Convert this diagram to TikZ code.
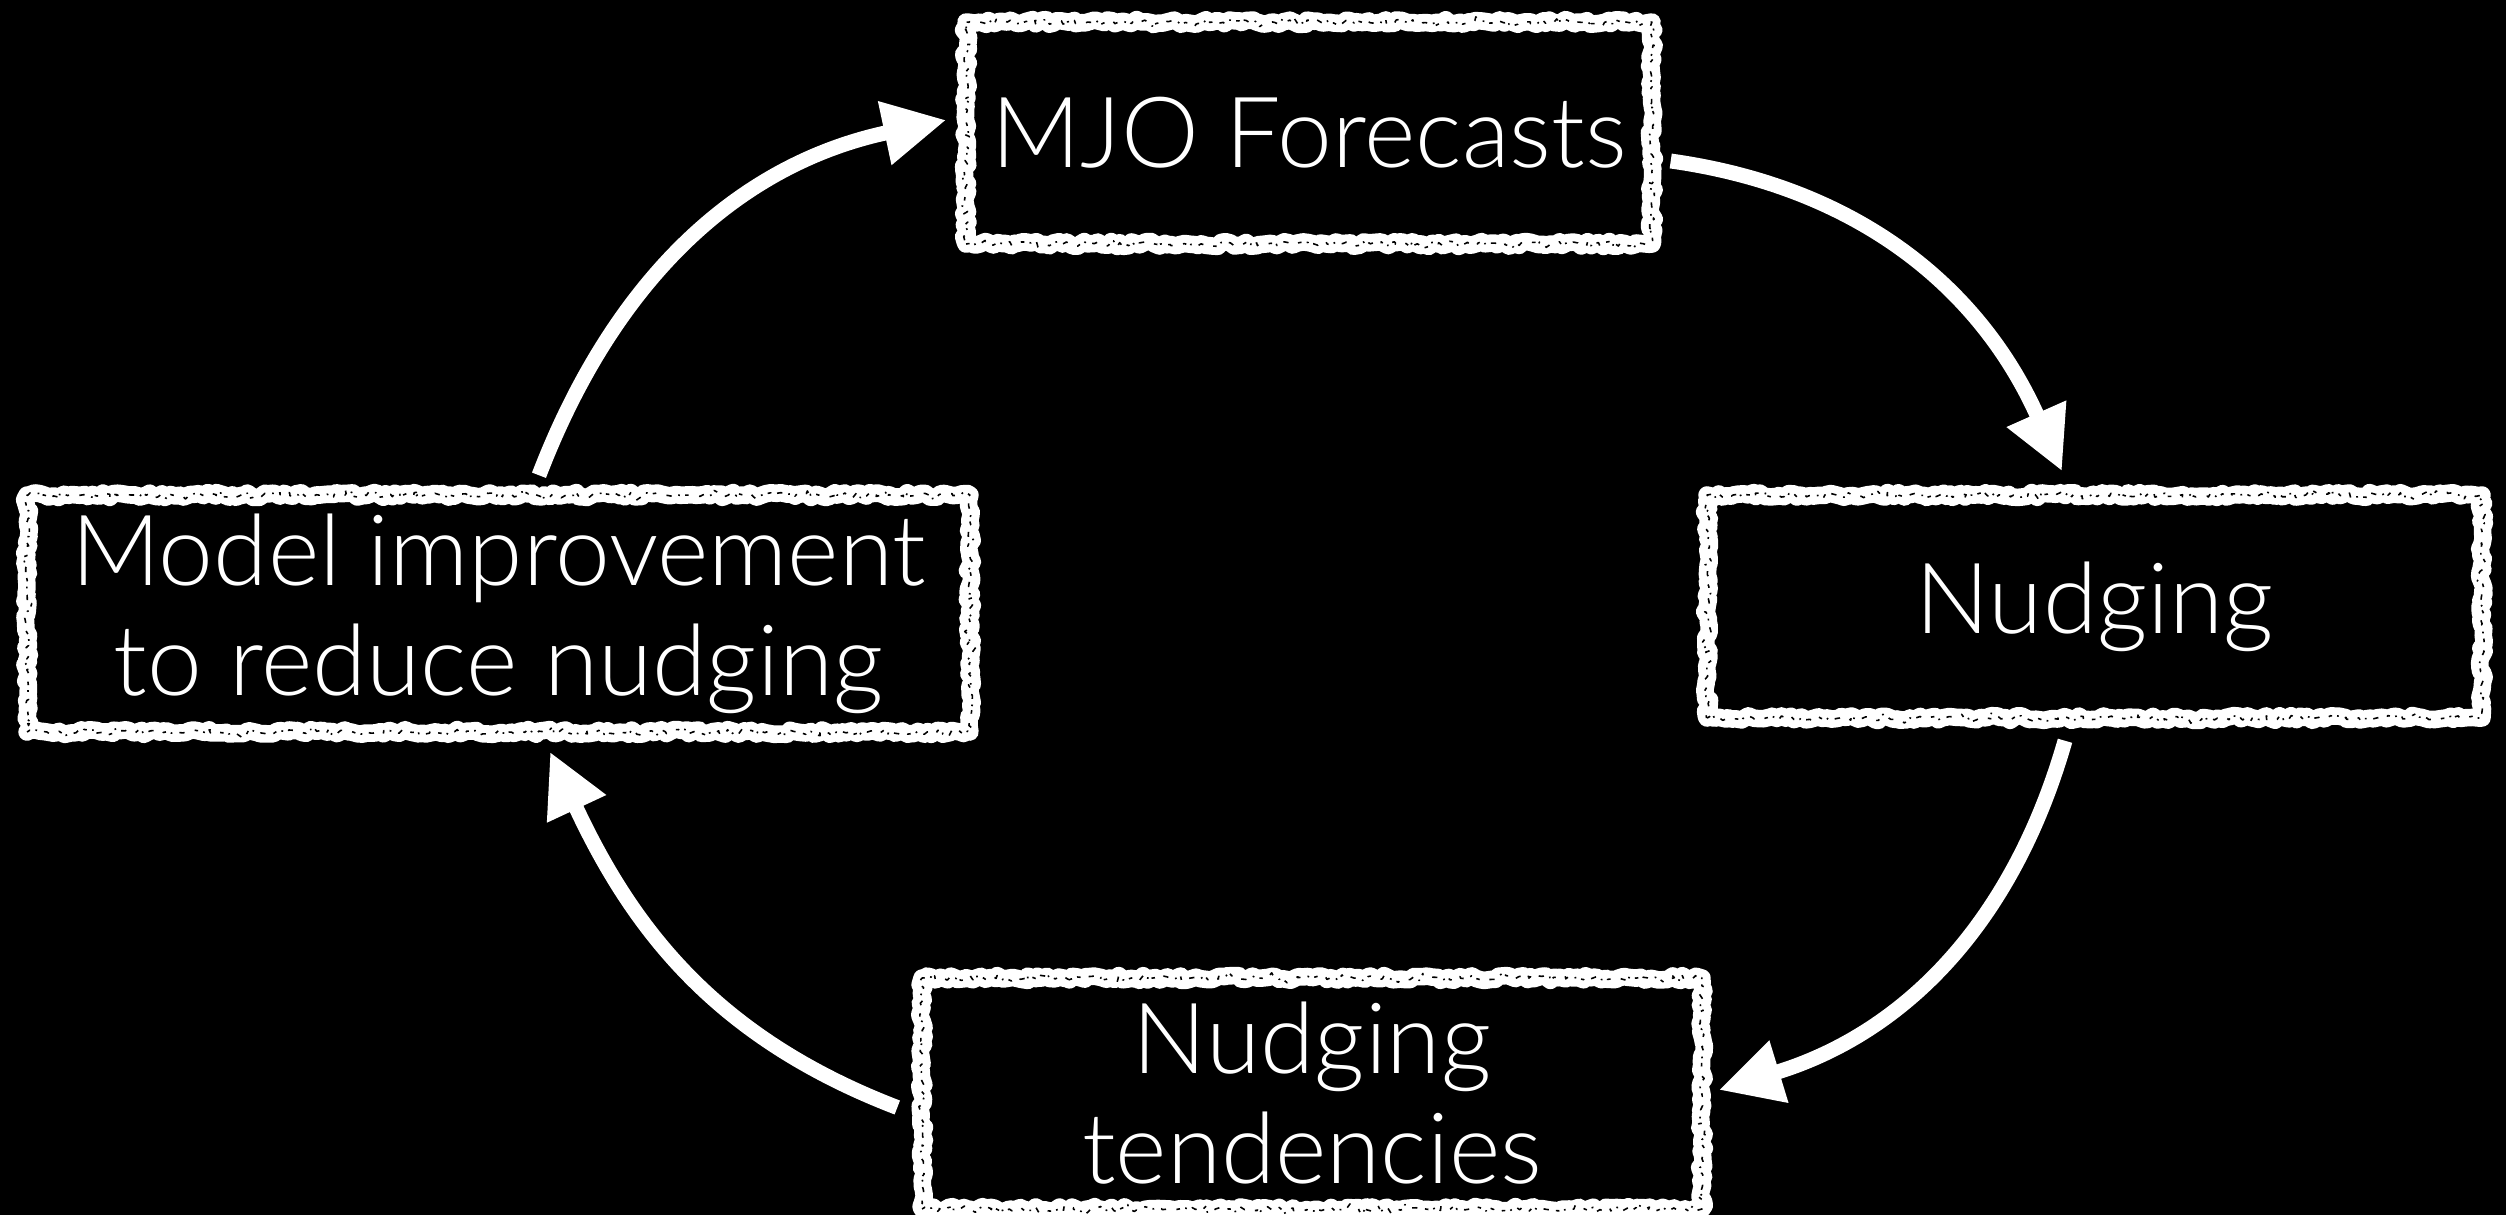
\documentclass[tikz,border=0pt]{standalone}
\usepackage{fontspec}
\setmainfont{Lato Light}
\usetikzlibrary{arrows.meta,decorations.pathmorphing}
\begin{document}
\begin{tikzpicture}[x=0.02cm,y=-0.02cm,
  chalkbox/.style={draw=white, line width=10pt, line join=round, text=white, align=center, inner sep=0pt,
     decorate, decoration={random steps, segment length=2.5pt, amplitude=1.4pt},
     postaction={draw=black, line width=0.9pt, line join=round, dash pattern=on 2pt off 3pt on 1pt off 4pt on 3pt off 6pt,
       decorate, decoration={random steps, segment length=2pt, amplitude=2.2pt}},
     font=\fontsize{56}{62.6}\selectfont},
  cyc/.style={draw=white, line width=8.5pt, -{Triangle[length=1.26cm,width=1.22cm]}}]
\pgfmathsetseed{7}
\useasboundingbox (0,0) rectangle (2506,1215);
\fill[black] (0,0) rectangle (2506,1215);
\node[chalkbox, minimum width=13.72cm, minimum height=4.44cm] (mjo) at (1309,133) {MJO Forecasts};
\node[chalkbox, minimum width=15.5cm, minimum height=4.46cm] (nud) at (2094.5,606.5) {Nudging};
\node[chalkbox, minimum width=18.86cm, minimum height=4.74cm] (model) at (498.5,613.5) {Model improvement\\to reduce nudging};
\node[chalkbox, minimum width=15.6cm, minimum height=4.62cm] (ten) at (1312,1093.5) {Nudging\\tendencies};
\draw[cyc] ([shift={(0.2cm,-0.56cm)}]mjo.east) to[out=-8,in=114] ([shift={(-0.65cm,0.3cm)}]nud.north);
\draw[cyc] ([shift={(-0.59cm,-0.28cm)}]nud.south) to[out=-106,in=17] ([shift={(0.16cm,0.07cm)}]ten.east);
\draw[cyc] ([shift={(-0.32cm,-0.28cm)}]ten.west) to[out=159,in=-65] ([shift={(1.03cm,-0.22cm)}]model.south);
\draw[cyc] ([shift={(0.81cm,0.22cm)}]model.north) to[out=69,in=192] ([shift={(-0.22cm,0.26cm)}]mjo.west);
\end{tikzpicture}
\end{document}
